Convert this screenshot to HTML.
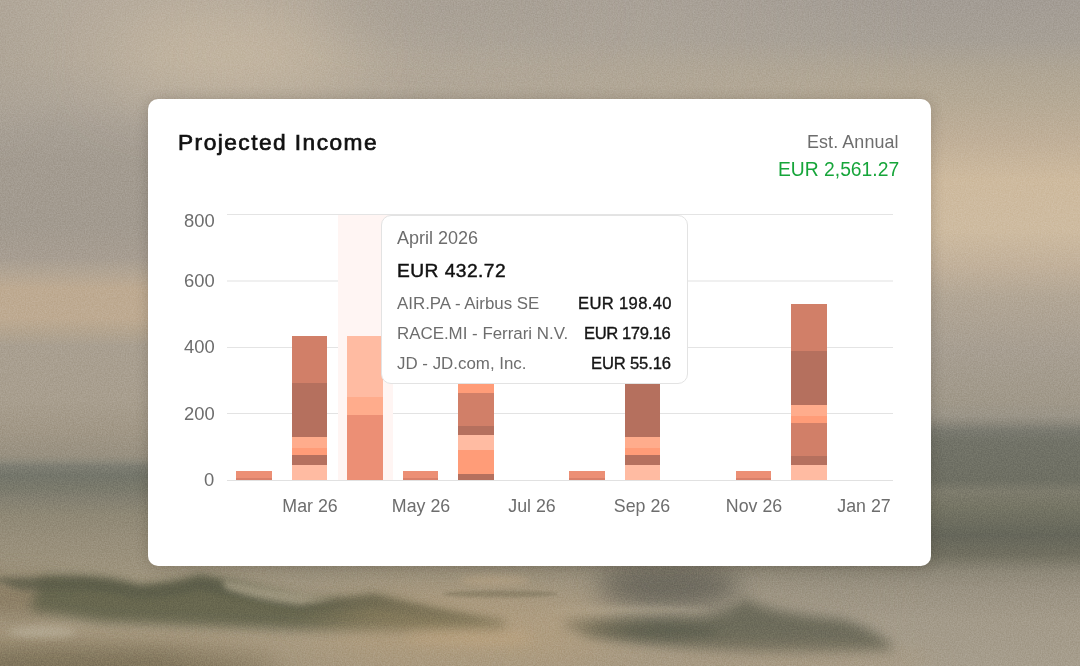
<!DOCTYPE html>
<html lang="en">
<head>
<meta charset="utf-8">
<title>Projected Income</title>
<style>
*{box-sizing:border-box;margin:0;padding:0}
html,body{width:1080px;height:666px;overflow:hidden}
body{font-family:"Liberation Sans",sans-serif;position:relative;background:#a89d8d}
#bg{position:absolute;left:0;top:0;width:1080px;height:666px;overflow:hidden;
background:/*BG*/linear-gradient(180deg,#aba092 0px,#b0a494 90px,#b7a895 200px,#b3a593 300px,#a39a8b 390px,#8d887b 430px,#7f7d71 460px,#86826f 520px,#938b78 570px,#9c9381 620px,#a39986 666px)/*ENDBG*/}
#card{position:absolute;left:148px;top:99px;width:783px;height:467px;background:#fff;border-radius:10px;box-shadow:0 1px 14px rgba(40,30,20,.2)}
.t{position:absolute;white-space:nowrap;line-height:1;will-change:transform}
.grid{position:absolute;left:78.7px;width:666px;height:1px;background:#e4e4e4}
#bars i{position:absolute;display:block}
#hl{position:absolute;left:190.2px;top:115.6px;width:55.2px;height:265px;background:#fff5f3}
#tip{position:absolute;left:233px;top:116px;width:307px;height:169px;background:#fff;border:1px solid #e3e3e3;border-radius:10px}
</style>
</head>
<body>
<div id="bg"><svg width="1080" height="666" viewBox="0 0 1080 666" style="position:absolute;left:0;top:0">
<defs>
<linearGradient id="gL" x1="0" y1="0" x2="0" y2="666" gradientUnits="userSpaceOnUse"><stop offset="0.0000" stop-color="#b3a99b"/><stop offset="0.0901" stop-color="#b3a99a"/><stop offset="0.1502" stop-color="#aea598"/><stop offset="0.1952" stop-color="#a79f94"/><stop offset="0.2402" stop-color="#a39b90"/><stop offset="0.3378" stop-color="#a29a8f"/><stop offset="0.3874" stop-color="#a79d91"/><stop offset="0.4114" stop-color="#b3a593"/><stop offset="0.4339" stop-color="#beaa91"/><stop offset="0.4775" stop-color="#beaa91"/><stop offset="0.4985" stop-color="#b3a48f"/><stop offset="0.5195" stop-color="#a99f90"/><stop offset="0.6006" stop-color="#a89e8e"/><stop offset="0.6456" stop-color="#a19786"/><stop offset="0.6832" stop-color="#989080"/><stop offset="0.6922" stop-color="#8e8a7c"/><stop offset="0.6997" stop-color="#7d7d72"/><stop offset="0.7147" stop-color="#73756a"/><stop offset="0.7327" stop-color="#79796b"/><stop offset="0.7508" stop-color="#848071"/><stop offset="0.7748" stop-color="#8f8875"/><stop offset="0.8108" stop-color="#978e7a"/><stop offset="0.8559" stop-color="#9d937d"/><stop offset="0.9009" stop-color="#a3977f"/><stop offset="0.9339" stop-color="#a89b83"/><stop offset="0.9640" stop-color="#aa9b80"/><stop offset="1.0000" stop-color="#a4967c"/></linearGradient>
<linearGradient id="gR" x1="0" y1="0" x2="0" y2="666" gradientUnits="userSpaceOnUse"><stop offset="0.0000" stop-color="#a39c94"/><stop offset="0.0601" stop-color="#a69f95"/><stop offset="0.1051" stop-color="#afa594"/><stop offset="0.1502" stop-color="#b5a995"/><stop offset="0.2102" stop-color="#c0af98"/><stop offset="0.2703" stop-color="#ceba9e"/><stop offset="0.3453" stop-color="#cebba0"/><stop offset="0.4024" stop-color="#c1b09a"/><stop offset="0.4474" stop-color="#b2a695"/><stop offset="0.5255" stop-color="#a79e91"/><stop offset="0.6006" stop-color="#a09889"/><stop offset="0.6246" stop-color="#9a9487"/><stop offset="0.6351" stop-color="#8c887c"/><stop offset="0.6471" stop-color="#79796f"/><stop offset="0.6637" stop-color="#717267"/><stop offset="0.7207" stop-color="#6e6f63"/><stop offset="0.7387" stop-color="#7d7b6c"/><stop offset="0.7583" stop-color="#767565"/><stop offset="0.8033" stop-color="#65665a"/><stop offset="0.8333" stop-color="#716f60"/><stop offset="0.8589" stop-color="#8e8878"/><stop offset="0.8859" stop-color="#9a9282"/><stop offset="0.9309" stop-color="#a39a89"/><stop offset="1.0000" stop-color="#a69d8c"/></linearGradient>
<linearGradient id="gM" x1="160" y1="0" x2="925" y2="0" gradientUnits="userSpaceOnUse"><stop offset="0" stop-color="#fff" stop-opacity="0"/><stop offset="1" stop-color="#fff" stop-opacity="1"/></linearGradient>
<mask id="mk" maskUnits="userSpaceOnUse" x="0" y="0" width="1080" height="666"><rect width="1080" height="666" fill="url(#gM)"/></mask>
<filter id="b40" filterUnits="userSpaceOnUse" x="-400" y="-400" width="1900" height="1500"><feGaussianBlur stdDeviation="40"/></filter>
<filter id="b25" filterUnits="userSpaceOnUse" x="-400" y="-400" width="1900" height="1500"><feGaussianBlur stdDeviation="25"/></filter>
<filter id="b12" filterUnits="userSpaceOnUse" x="-400" y="-400" width="1900" height="1500"><feGaussianBlur stdDeviation="12"/></filter>
<filter id="b6" filterUnits="userSpaceOnUse" x="-400" y="-400" width="1900" height="1500"><feGaussianBlur stdDeviation="6"/></filter>
<filter id="b3" filterUnits="userSpaceOnUse" x="-400" y="-400" width="1900" height="1500"><feGaussianBlur stdDeviation="3"/></filter>
<filter id="b2" filterUnits="userSpaceOnUse" x="-400" y="-400" width="1900" height="1500"><feGaussianBlur stdDeviation="1.6"/></filter>
<filter id="nz" x="0" y="0" width="1080" height="666" filterUnits="userSpaceOnUse" color-interpolation-filters="sRGB"><feTurbulence type="fractalNoise" baseFrequency="0.75" numOctaves="2" seed="3"/><feColorMatrix type="matrix" values="1.8 0 0 0 -0.4  1.8 0 0 0 -0.4  1.8 0 0 0 -0.4  0 0 0 0 1"/></filter>
</defs>
<rect width="1080" height="666" fill="url(#gL)"/>
<rect width="1080" height="666" fill="url(#gR)" mask="url(#mk)"/>
<!-- warm patch top-left -->
<ellipse cx="236" cy="55" rx="130" ry="34" fill="#d5c3a8" opacity=".75" filter="url(#b40)"/>
<ellipse cx="-10" cy="50" rx="30" ry="70" fill="#a89f92" opacity=".5" filter="url(#b25)"/>
<ellipse cx="450" cy="8" rx="140" ry="22" fill="#a39b91" opacity=".6" filter="url(#b25)"/>
<!-- bottom-left olive corner -->
<ellipse cx="50" cy="668" rx="230" ry="24" fill="#7a6f56" opacity=".9" filter="url(#b12)"/>
<ellipse cx="12" cy="598" rx="48" ry="20" fill="#86785f" opacity=".85" filter="url(#b12)"/>
<!-- wave 1 (left) body + crest -->
<path d="M40 577 L80 577 Q112 578 139 586 Q172 584 200 576 Q250 584 300 598 Q340 601 374 595 Q440 612 505 622 L505 629 Q400 632 300 630 Q200 626 100 622 Q60 616 30 610Z" fill="#65654e" opacity=".95" filter="url(#b6)"/>
<path d="M-10 578 L80 577 Q112 578 139 586 Q172 584 200 576 Q250 584 300 598 Q340 601 374 595 Q440 612 505 622 Q440 622 374 608 Q340 612 300 610 Q250 600 200 590 Q172 597 139 598 Q112 592 80 590 L20 590Z" fill="#585a46" opacity=".75" filter="url(#b3)"/>
<!-- foam streaks -->
<path d="M222 580 Q260 586 300 595 L335 599 L300 605 Q260 601 226 589Z" fill="#c2b69c" opacity=".62" filter="url(#b3)"/>
<ellipse cx="42" cy="632" rx="34" ry="6" fill="#b5ab95" opacity=".75" filter="url(#b3)"/>
<ellipse cx="470" cy="638" rx="65" ry="7" fill="#c4aa86" opacity=".5" filter="url(#b6)"/>
<ellipse cx="495" cy="580" rx="35" ry="5" fill="#bfa98a" opacity=".45" filter="url(#b3)"/>
<ellipse cx="500" cy="594" rx="58" ry="3.5" fill="#74715d" opacity=".7" filter="url(#b2)"/>
<!-- mid-right dark blob near card bottom -->
<ellipse cx="668" cy="586" rx="72" ry="22" fill="#67655a" opacity=".9" filter="url(#b12)"/>
<ellipse cx="625" cy="611" rx="85" ry="4" fill="#aca28d" opacity=".75" filter="url(#b3)"/>
<!-- wave 2 (right) -->
<path d="M565 622 Q620 617 700 617 Q730 611 745 599 Q770 613 840 619 Q880 630 895 650 Q800 655 720 651 Q640 647 565 627Z" fill="#636352" opacity=".85" filter="url(#b6)"/>
<ellipse cx="650" cy="632" rx="70" ry="9" fill="#55584a" opacity=".6" filter="url(#b6)"/>
<ellipse cx="730" cy="662" rx="210" ry="13" fill="#aa977a" opacity=".5" filter="url(#b12)"/>
<ellipse cx="470" cy="628" rx="150" ry="38" fill="#c3a275" opacity=".38" filter="url(#b25)"/>
<ellipse cx="330" cy="655" rx="160" ry="14" fill="#a8977b" opacity=".4" filter="url(#b12)"/>
<rect width="1080" height="666" filter="url(#nz)" opacity=".08" style="mix-blend-mode:overlay"/>
</svg></div>
<div id="card">
  <div class="grid" style="top:115px;height:1px;background:#e4e4e4"></div>
  <div class="grid" style="top:181px;height:2px;background:#f0f0f0"></div>
  <div class="grid" style="top:248px;height:1px;background:#e4e4e4"></div>
  <div class="grid" style="top:314px;height:1px;background:#e3e3e3"></div>
  <div class="grid" style="top:381px;height:1px;background:#e1e1e1"></div>
  <div id="hl"></div>
  <div id="bars">
    <i style="left:88.2px;top:372.2px;width:35.8px;height:6.6px;background:#EC8F75"></i>
    <i style="left:88.2px;top:378.8px;width:35.8px;height:2.4px;background:#D9806A"></i>
    <i style="left:143.8px;top:237.2px;width:35.6px;height:46.8px;background:#D17F68"></i>
    <i style="left:143.8px;top:284.0px;width:35.6px;height:54.0px;background:#B5705E"></i>
    <i style="left:143.8px;top:338.0px;width:35.6px;height:10.7px;background:#FFAC8C"></i>
    <i style="left:143.8px;top:348.7px;width:35.6px;height:7.3px;background:#FF9C78"></i>
    <i style="left:143.8px;top:356.0px;width:35.6px;height:10.0px;background:#B5705E"></i>
    <i style="left:143.8px;top:366.0px;width:35.6px;height:15.2px;background:#FFBBA2"></i>
    <i style="left:199.4px;top:237.2px;width:35.6px;height:60.4px;background:#FFBBA2"></i>
    <i style="left:199.4px;top:297.6px;width:35.6px;height:18.0px;background:#FFAC8C"></i>
    <i style="left:199.4px;top:315.6px;width:35.6px;height:65.6px;background:#EC8F75"></i>
    <i style="left:254.7px;top:372.2px;width:35.6px;height:6.6px;background:#EC8F75"></i>
    <i style="left:254.7px;top:378.8px;width:35.6px;height:2.4px;background:#D9806A"></i>
    <i style="left:310.2px;top:271.0px;width:35.8px;height:23.0px;background:#FF9C78"></i>
    <i style="left:310.2px;top:294.0px;width:35.8px;height:32.9px;background:#D17F68"></i>
    <i style="left:310.2px;top:326.9px;width:35.8px;height:9.0px;background:#B5705E"></i>
    <i style="left:310.2px;top:335.9px;width:35.8px;height:15.3px;background:#FFBBA2"></i>
    <i style="left:310.2px;top:351.2px;width:35.8px;height:23.4px;background:#FF9C78"></i>
    <i style="left:310.2px;top:374.6px;width:35.8px;height:6.6px;background:#B5705E"></i>
    <i style="left:421.3px;top:372.2px;width:35.6px;height:6.6px;background:#EC8F75"></i>
    <i style="left:421.3px;top:378.8px;width:35.6px;height:2.4px;background:#D9806A"></i>
    <i style="left:476.9px;top:237.2px;width:35.5px;height:46.8px;background:#D17F68"></i>
    <i style="left:476.9px;top:284.0px;width:35.5px;height:54.0px;background:#B5705E"></i>
    <i style="left:476.9px;top:338.0px;width:35.5px;height:10.7px;background:#FFAC8C"></i>
    <i style="left:476.9px;top:348.7px;width:35.5px;height:7.3px;background:#FF9C78"></i>
    <i style="left:476.9px;top:356.0px;width:35.5px;height:10.0px;background:#B5705E"></i>
    <i style="left:476.9px;top:366.0px;width:35.5px;height:15.2px;background:#FFBBA2"></i>
    <i style="left:587.6px;top:372.2px;width:35.6px;height:6.6px;background:#EC8F75"></i>
    <i style="left:587.6px;top:378.8px;width:35.6px;height:2.4px;background:#D9806A"></i>
    <i style="left:643.1px;top:205.0px;width:35.8px;height:46.7px;background:#D17F68"></i>
    <i style="left:643.1px;top:251.7px;width:35.8px;height:53.9px;background:#B5705E"></i>
    <i style="left:643.1px;top:305.6px;width:35.8px;height:11.1px;background:#FFAC8C"></i>
    <i style="left:643.1px;top:316.7px;width:35.8px;height:7.0px;background:#FF9C78"></i>
    <i style="left:643.1px;top:323.7px;width:35.8px;height:33.0px;background:#D17F68"></i>
    <i style="left:643.1px;top:356.7px;width:35.8px;height:9.3px;background:#B5705E"></i>
    <i style="left:643.1px;top:366.0px;width:35.8px;height:15.2px;background:#FFBBA2"></i>
  </div>
  <div class="t" style="left:30.0px;top:32.4px;font-size:22.7px;color:#111;letter-spacing:1.47px;-webkit-text-stroke:.72px #111">Projected Income</div>
  <div class="t" style="right:32.0px;top:34.8px;font-size:17.9px;color:#6d6d6d;letter-spacing:.1px">Est. Annual</div>
  <div class="t" style="right:32.0px;top:60.7px;font-size:19.3px;color:#16a53a;">EUR 2,561.27</div>
  <div class="t" style="right:716.6px;top:113.2px;font-size:18.4px;color:#6d6d6d;">800</div>
  <div class="t" style="right:716.6px;top:172.8px;font-size:18.4px;color:#6d6d6d;">600</div>
  <div class="t" style="right:716.6px;top:239.3px;font-size:18.4px;color:#6d6d6d;">400</div>
  <div class="t" style="right:716.6px;top:305.8px;font-size:18.4px;color:#6d6d6d;">200</div>
  <div class="t" style="right:716.6px;top:372.3px;font-size:18.4px;color:#6d6d6d;">0</div>
  <div class="t" style="left:61.9px;width:200px;text-align:center;top:398.9px;font-size:17.8px;color:#6d6d6d;">Mar 26</div>
  <div class="t" style="left:172.7px;width:200px;text-align:center;top:398.9px;font-size:17.8px;color:#6d6d6d;">May 26</div>
  <div class="t" style="left:283.8px;width:200px;text-align:center;top:398.9px;font-size:17.8px;color:#6d6d6d;">Jul 26</div>
  <div class="t" style="left:394.2px;width:200px;text-align:center;top:398.9px;font-size:17.8px;color:#6d6d6d;">Sep 26</div>
  <div class="t" style="left:505.8px;width:200px;text-align:center;top:398.9px;font-size:17.8px;color:#6d6d6d;">Nov 26</div>
  <div class="t" style="left:616.4px;width:200px;text-align:center;top:398.9px;font-size:17.8px;color:#6d6d6d;">Jan 27</div>
  <div id="tip">
    <div class="t" style="left:15.0px;top:12.8px;font-size:18px;color:#6d6d6d;">April 2026</div>
    <div class="t" style="left:15.0px;top:45.3px;font-size:19.2px;color:#111;letter-spacing:.45px;-webkit-text-stroke:.45px #111">EUR 432.72</div>
    <div class="t" style="left:15.2px;top:80.0px;font-size:16.9px;color:#6d6d6d;">AIR.PA - Airbus SE</div>
    <div class="t" style="right:15.8px;top:80.2px;font-size:16.6px;color:#141414;letter-spacing:0.35px;margin-right:-0.35px;-webkit-text-stroke:.35px #141414">EUR 198.40</div>
    <div class="t" style="left:15.2px;top:110.0px;font-size:16.9px;color:#6d6d6d;">RACE.MI - Ferrari N.V.</div>
    <div class="t" style="right:15.8px;top:110.2px;font-size:16.6px;color:#141414;letter-spacing:-0.4px;margin-right:0.4px;-webkit-text-stroke:.35px #141414">EUR 179.16</div>
    <div class="t" style="left:15.2px;top:139.7px;font-size:16.9px;color:#6d6d6d;">JD - JD.com, Inc.</div>
    <div class="t" style="right:15.8px;top:139.9px;font-size:16.6px;color:#141414;letter-spacing:-0.15px;margin-right:0.15px;-webkit-text-stroke:.35px #141414">EUR 55.16</div>
  </div>
</div>
</body>
</html>
